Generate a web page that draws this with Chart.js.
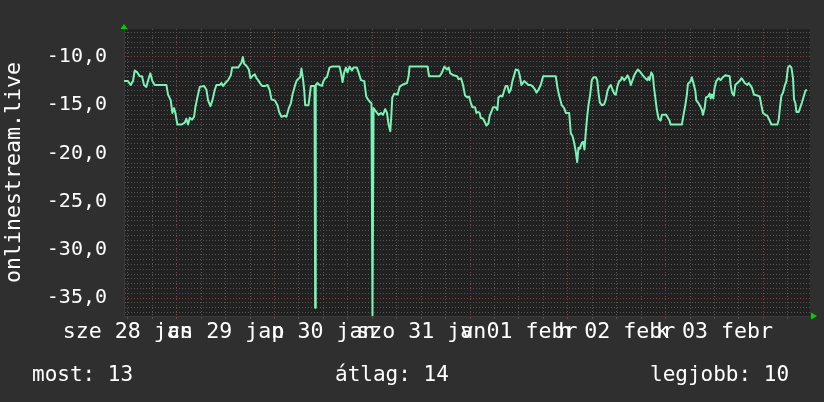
<!DOCTYPE html>
<html><head><meta charset="utf-8">
<script src="https://cdn.jsdelivr.net/npm/chart.js@4.4.1/dist/chart.umd.min.js"></script>
<style>html,body{margin:0;padding:0;background:#2f2f2f;overflow:hidden}#wrap{width:824px;height:402px;position:relative}</style>
</head><body><div id="wrap"><canvas id="c" width="824" height="402"></canvas></div>
<script>
// time axis: hours since 28 jan 00:00
const hours = [11.05,12.03,12.70,13.26,13.68,14.32,14.91,15.47,15.97,16.53,17.12,17.51,18.01,18.60,21.45,21.86,22.53,22.92,23.34,23.66,24.15,25.13,25.97,26.36,26.78,27.20,27.76,28.25,28.57,29.06,29.65,30.71,31.28,31.69,32.26,32.75,33.34,33.73,34.57,34.96,35.38,35.94,36.61,37.27,37.59,39.07,39.88,40.22,40.54,41.10,41.69,42.09,42.75,43.17,43.56,43.98,44.40,44.96,45.77,46.27,46.85,47.25,48.08,48.72,49.14,49.71,50.54,50.93,51.52,52.02,52.41,53.07,53.49,54.30,54.62,54.96,55.28,55.53,56.34,56.59,56.93,57.57,57.82,57.97,58.12,58.55,59.04,59.63,60.03,60.44,60.86,61.50,62.09,63.96,64.30,64.70,65.11,65.53,65.92,66.42,67.00,67.40,68.23,68.63,69.22,70.03,70.52,70.94,71.50,71.80,72.05,72.31,72.98,73.54,74.13,74.62,75.19,75.61,76.00,76.42,76.66,76.91,77.40,78.21,78.70,79.29,79.86,80.52,80.91,81.16,85.58,85.93,88.53,89.12,89.69,90.35,90.75,91.16,91.97,92.81,93.20,93.79,94.28,94.77,95.34,95.76,96.15,96.57,97.23,97.55,98.04,98.36,98.61,99.20,99.69,100.01,100.50,100.82,101.31,101.66,102.29,102.71,102.96,103.52,103.94,104.36,104.75,105.17,105.59,105.98,106.40,106.82,107.21,107.87,108.19,108.61,109.27,109.84,110.33,110.90,111.48,111.98,112.30,112.79,113.35,113.94,117.04,117.46,117.87,118.51,119.10,119.50,120.33,120.73,121.14,121.56,121.95,122.30,122.62,122.94,123.43,123.77,124.09,124.41,124.75,125.07,125.49,125.89,126.31,126.87,127.21,127.53,127.85,128.34,128.93,129.33,129.74,130.16,130.55,130.97,131.39,131.78,132.20,132.62,133.01,133.26,133.85,134.24,134.66,135.08,135.47,135.89,136.31,136.70,137.19,137.85,138.41,139.01,139.50,139.82,140.07,140.49,140.88,141.13,141.47,141.86,142.28,142.77,143.09,144.17,144.56,144.98,145.22,147.44,148.00,148.49,148.84,149.23,149.48,150.14,150.46,150.95,151.30,151.54,152.11,152.60,152.92,153.17,153.59,153.90,154.40,154.81,155.06,155.38,155.72,156.04,156.46,157.00,157.51,158.08,158.67,159.73,159.97,160.29,160.78,161.12,161.62,162.18,162.60,162.99,163.41,164.07,164.39,164.89,165.20,165.70,166.53,167.10,167.51,167.91,168.50,168.99,169.55,169.97,170.78,171.45,171.77,172.09,172.43,172.82,173.24,173.66,174.03,174.47,174.89,175.28,175.53,175.87,176.12,176.68,177.09,177.49,177.98,178.33,178.75];
const online = [-12.5,-12.5,-12.9,-12.5,-11.4,-11.6,-12.0,-12.0,-12.9,-13.1,-12.2,-11.7,-12.5,-12.9,-12.9,-13.9,-14.5,-15.8,-15.3,-15.8,-17.0,-17.0,-16.8,-16.4,-17.0,-16.3,-16.5,-16.2,-15.2,-14.2,-13.1,-13.0,-13.4,-14.5,-15.1,-14.5,-13.4,-12.9,-12.9,-12.7,-13.0,-12.7,-12.4,-11.9,-11.1,-11.1,-10.6,-10.0,-10.7,-10.9,-11.3,-12.2,-11.9,-11.8,-12.2,-12.4,-12.7,-13.0,-13.0,-12.9,-13.5,-14.4,-14.5,-15.0,-15.7,-16.2,-16.1,-16.2,-15.3,-14.8,-13.9,-12.9,-12.4,-12.1,-11.2,-12.2,-13.4,-15.0,-15.0,-14.2,-13.0,-13.0,-13.0,-36.0,-12.9,-12.7,-12.9,-13.0,-12.5,-12.2,-12.1,-11.1,-11.0,-11.0,-11.6,-12.6,-11.6,-11.1,-11.6,-11.0,-11.4,-11.1,-11.1,-11.6,-12.4,-12.5,-14.1,-14.4,-14.7,-14.8,-36.8,-15.3,-15.7,-16.0,-15.8,-16.0,-15.4,-15.8,-17.0,-17.7,-16.2,-14.2,-13.8,-13.9,-13.1,-12.9,-12.8,-12.7,-12.0,-11.0,-11.0,-12.0,-12.0,-11.6,-11.0,-11.3,-11.1,-11.7,-11.9,-12.0,-12.3,-12.2,-12.9,-14.0,-14.2,-14.1,-14.7,-15.2,-15.2,-15.8,-15.7,-15.8,-16.3,-16.4,-16.8,-17.1,-16.9,-16.1,-15.6,-15.2,-15.2,-15.5,-14.2,-14.0,-14.1,-13.5,-13.0,-13.0,-13.7,-13.4,-12.5,-11.9,-11.3,-11.4,-11.9,-12.9,-12.5,-12.7,-12.9,-12.9,-13.1,-13.4,-13.7,-13.4,-12.9,-12.0,-12.0,-13.2,-14.0,-15.0,-15.3,-15.8,-15.8,-17.9,-18.2,-18.9,-19.8,-20.9,-19.4,-19.5,-18.9,-18.8,-19.6,-17.8,-16.2,-15.0,-13.9,-12.4,-12.1,-12.1,-12.4,-13.7,-14.7,-15.0,-14.9,-14.4,-13.5,-13.1,-12.9,-13.4,-13.8,-13.9,-13.0,-12.5,-12.4,-12.1,-12.4,-12.2,-11.9,-12.3,-12.9,-12.4,-11.9,-11.6,-11.3,-11.6,-11.9,-12.2,-12.4,-12.1,-12.4,-11.6,-11.9,-13.1,-14.2,-15.5,-16.4,-16.6,-16.0,-16.0,-16.3,-16.6,-17.0,-17.0,-17.0,-15.8,-15.0,-13.9,-12.8,-12.5,-12.1,-12.9,-13.5,-14.5,-14.8,-15.2,-15.5,-16.0,-15.3,-14.2,-14.1,-13.8,-14.3,-13.9,-14.3,-13.2,-12.5,-12.2,-12.4,-12.1,-11.9,-12.0,-12.9,-13.7,-14.0,-12.9,-12.7,-12.5,-12.2,-12.4,-12.7,-12.9,-12.7,-13.0,-13.2,-13.9,-14.0,-14.1,-15.0,-15.8,-16.0,-16.1,-16.6,-17.0,-17.0,-17.0,-16.5,-15.2,-14.0,-13.7,-13.0,-12.5,-11.1,-10.9,-11.1,-12.2,-14.4,-14.8,-15.7,-15.7,-15.2,-14.7,-14.0,-13.5,-13.4];
// x tick labels (at noon of each day)
const labelHours = [12, 36, 60, 84, 108, 132, 156];
const labelTexts = ['sze 28 jan', 'cs 29 jan', 'p 30 jan', 'szo 31 jan', 'v 01 febr', 'h 02 febr', 'k 03 febr'];
// legend
const legendNames = ['most', 'átlag', 'legjobb'];
const legendValues = [13, 14, 10];
const seriesName = 'onlinestream.live';

const X_MIN = 11.05, X_MAX = 179.45, Y_MIN = -36.85, Y_MAX = -7.1;
const xGrid = []; for (let h = 12; h <= 178; h += 6) xGrid.push(h);
const yGrid = []; for (let v = -36.5; v <= -7.5 + 1e-9; v += 0.5) yGrid.push(Math.round(v * 10) / 10);
const FONT = 'DejaVu Sans Mono';

const decor = {
  id: 'decor',
  beforeDraw(chart) {
    const { ctx, chartArea: a } = chart;
    ctx.save();
    ctx.fillStyle = '#2f2f2f';
    ctx.fillRect(0, 0, chart.width, chart.height);
    ctx.fillStyle = '#212121';
    ctx.fillRect(a.left, a.top, a.right - a.left, a.bottom - a.top);
    ctx.restore();
  },
  afterDraw(chart) {
    const { ctx, chartArea: a } = chart;
    ctx.save();
    ctx.fillStyle = '#00d000';
    ctx.beginPath();
    ctx.moveTo(a.left - 3.5, a.top);
    ctx.lineTo(a.left + 3.5, a.top);
    ctx.lineTo(a.left, a.top - 5);
    ctx.closePath(); ctx.fill();
    ctx.beginPath();
    ctx.moveTo(a.right + 1, a.bottom - 3.5);
    ctx.lineTo(a.right + 1, a.bottom + 3.5);
    ctx.lineTo(a.right + 7, a.bottom);
    ctx.closePath(); ctx.fill();
    ctx.fillStyle = '#ffffff';
    ctx.font = '21px "' + FONT + '"';
    ctx.textBaseline = 'alphabetic';
    ctx.textAlign = 'left';
    const xs = [32, 335, 650];
    legendNames.forEach((n, i) => ctx.fillText(n + ': ' + legendValues[i], xs[i], 381));
    ctx.restore();
  }
};

new Chart(document.getElementById('c'), {
  type: 'line',
  data: {
    datasets: [{
      label: seriesName,
      data: hours.map((h, i) => ({ x: h, y: online[i] })),
      borderColor: '#7af2b8',
      borderWidth: 2,
      pointRadius: 0,
      tension: 0,
      fill: false,
      borderJoinStyle: 'round'
    }]
  },
  options: {
    responsive: false,
    animation: false,
    layout: { padding: { top: 13, right: 14, left: 0, bottom: 0 } },
    plugins: { legend: { display: false }, tooltip: { enabled: false } },
    scales: {
      x: {
        type: 'linear', min: X_MIN, max: X_MAX,
        afterBuildTicks: s => { s.ticks = xGrid.map(v => ({ value: v })); },
        afterFit: s => { s.height = 86; },
        ticks: {
          autoSkip: false, maxRotation: 0, minRotation: 0, padding: 0,
          color: '#ffffff', font: { family: FONT, size: 21.6 },
          callback: v => { const i = labelHours.indexOf(v); return i >= 0 ? labelTexts[i] : ''; }
        },
        grid: {
          color: c => (c.tick && c.tick.value % 24 === 0) ? '#8c3a3a' : '#555555',
          lineWidth: 1, drawTicks: true, tickLength: 3
        },
        border: { display: true, color: '#3a3a3a', dash: [1, 2] }
      },
      y: {
        min: Y_MIN, max: Y_MAX,
        afterBuildTicks: s => { s.ticks = yGrid.map(v => ({ value: v })); },
        afterFit: s => { s.width = 124; },
        ticks: {
          autoSkip: false, padding: 17, color: '#ffffff', font: { family: FONT, size: 20 },
          callback: v => Math.abs(v % 5) < 1e-6 ? v.toFixed(1).replace('.', ',') : ''
        },
        grid: {
          color: c => (c.tick && Math.abs(c.tick.value % 5) < 1e-6) ? '#8c3a3a' : '#555555',
          lineWidth: 1, drawTicks: false
        },
        border: { display: true, color: '#3a3a3a', dash: [1, 2] },
        title: {
          display: true, text: seriesName, color: '#ffffff',
          font: { family: FONT, size: 21.6 }, padding: { top: 1, bottom: 0 }
        }
      }
    }
  },
  plugins: [decor]
});
</script></body></html>
